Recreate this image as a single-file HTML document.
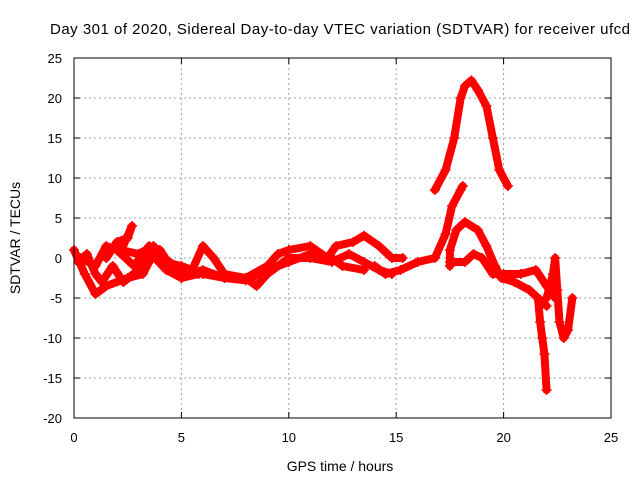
<!DOCTYPE html>
<html><head><meta charset="utf-8"><style>
body{margin:0;background:#fff}
svg{display:block;font-family:"Liberation Sans",sans-serif}
</style></head><body>
<svg id="chart" width="640" height="480">
<text x="340" y="34" text-anchor="middle" font-size="15" textLength="580">Day 301 of 2020, Sidereal Day-to-day VTEC variation (SDTVAR) for receiver ufcd</text>
<text x="340" y="471" text-anchor="middle" font-size="14">GPS time / hours</text>
<text transform="translate(20,238) rotate(-90)" text-anchor="middle" font-size="14">SDTVAR / TECUs</text>
<g id="grid"></g><g id="marks"></g>
<rect x="74" y="58" width="537" height="360" fill="none" stroke="#000" stroke-width="1"/>
</svg>
<script>
const xTicks=[0,5,10,15,20,25];
const yTicks=[-20,-15,-10,-5,0,5,10,15,20,25];
const peakT=[16.8,17.3,17.7,18.0,18.2,18.5,18.8,19.2,19.5,19.8,20.2];
const peakV=[8.5,11,15,20,21.5,22.2,21,19,15,11,9];
const riseT=[14.0,14.5,15.2,16.0,16.8,17.3,17.6,18.0,18.1];
const riseV=[-1,-2,-1.5,-0.5,0,3,6.5,8.5,9];
const humpT=[17.5,17.5,17.8,18.2,18.8,19.2,19.6,19.9,20.5,21.2,22.0];
const humpV=[-1,1,3.5,4.5,3.5,1.5,-1,-2.5,-3,-4,-6];
const lowT=[17.5,18.2,18.6,19.0,19.5,20,20.8,21.5,22.0,22.4];
const lowV=[-0.5,-0.5,0.5,0,-2,-2,-2,-1.5,-3.5,-5];
const spikeT=[21.6,21.7,21.8,21.9,22.0];
const spikeV=[-5,-8,-10,-12,-16.5];
const endT=[22.0,22.3,22.4,22.5,22.6,22.8,23.0,23.2];
const endV=[-5,-2,0,-4,-8,-10,-9,-5];
const aT=[0,0.5,1,1.5,2.5,3.2,3.8,4.2,4.7,5.2,6,7,8,8.5,9,10,11,12,12.8,13.5,14.2,14.8];
const aV=[1,-2,-4.5,-3.5,-2.5,-2,1,0,-1,-2,-1.5,-2.5,-2.5,-3.5,-2,0,0,-0.5,0.5,-0.5,-1.5,-2];
const bT=[0.3,1,1.5,2,2.8,3.5,4,4.5,5,5.5,6,6.5,7,8,9,9.5,10,11,11.8,12.2,13,13.5,14.2,14.8,15.3];
const bV=[0,-1,1.5,1,-1,1.5,1,-1,-2.5,-1.5,1.5,0,-2,-2.5,-1,0.5,1,1.5,0,1.5,2,2.8,1.5,0,0];
const cT=[1.5,2,2.5,2.7,2.2,3,3.7,4.2,5,6,7,8,9,10,11,12,12.5,13.5];
const cV=[0,2,2.5,4,1,0.5,1.5,-0.5,-1,-2,-2.5,-2.8,-1.5,-0.5,0.5,0,-1,-1.5];
const dT=[0.2,0.6,1.0,1.3,1.8,2.3,3.0,3.6,4.3,5.0,5.8];
const dV=[-0.5,0.5,-2,-3,-1,-3,-1.5,0.5,-1.5,-2.5,-2];
const series=[[peakT,peakV],[riseT,riseV],[humpT,humpV],[lowT,lowV],[spikeT,spikeV],[endT,endV],[aT,aV],[bT,bV],[cT,cV],[dT,dV]];
const NS="http://www.w3.org/2000/svg";
const X=h=>74+h*537/25, Y=v=>58+(25-v)*8;
const grid=document.getElementById('grid'), marks=document.getElementById('marks');
function mk(t,a,p){const e=document.createElementNS(NS,t);for(const k in a)e.setAttribute(k,a[k]);p.appendChild(e);return e;}
xTicks.forEach(t=>{
 if(t>0&&t<25){const g=mk('line',{x1:X(t),x2:X(t),y1:58,y2:418,stroke:'#a0a0a0','stroke-dasharray':'2,3'},grid);
 
 }
 const l=mk('text',{x:X(t),y:442,'text-anchor':'middle','font-size':13},grid);l.textContent=t;
 
 
 mk('line',{x1:X(t),x2:X(t),y1:418,y2:412,stroke:'#000'},grid);mk('line',{x1:X(t),x2:X(t),y1:58,y2:64,stroke:'#000'},grid);
});
yTicks.forEach(t=>{
 if(t>-20&&t<25){const g=mk('line',{x1:74,x2:611,y1:Y(t),y2:Y(t),stroke:'#a0a0a0','stroke-dasharray':'2,3'},grid);
 
 }
 const l=mk('text',{x:62,y:Y(t)+5,'text-anchor':'end','font-size':13},grid);l.textContent=t;
 
 
 mk('line',{x1:74,x2:80,y1:Y(t),y2:Y(t),stroke:'#000'},grid);mk('line',{x1:611,x2:605,y1:Y(t),y2:Y(t),stroke:'#000'},grid);
});
series.forEach(([ts,vs])=>{
 const pts=ts.map((t,i)=>X(t)+','+Y(vs[i])).join(' ');
 const pl=mk('polyline',{points:pts,fill:'none',stroke:'#f00','stroke-width':8,'stroke-linejoin':'round','stroke-linecap':'round'},marks);
 
 
 ts.forEach((t,i)=>{const x=X(t),y=Y(vs[i]);
  const p=mk('path',{d:`M${x-5} ${y}H${x+5}M${x} ${y-5}V${y+5}`,stroke:'#f00','stroke-width':1.5},marks);
  
  });
});
</script>
</body></html>
